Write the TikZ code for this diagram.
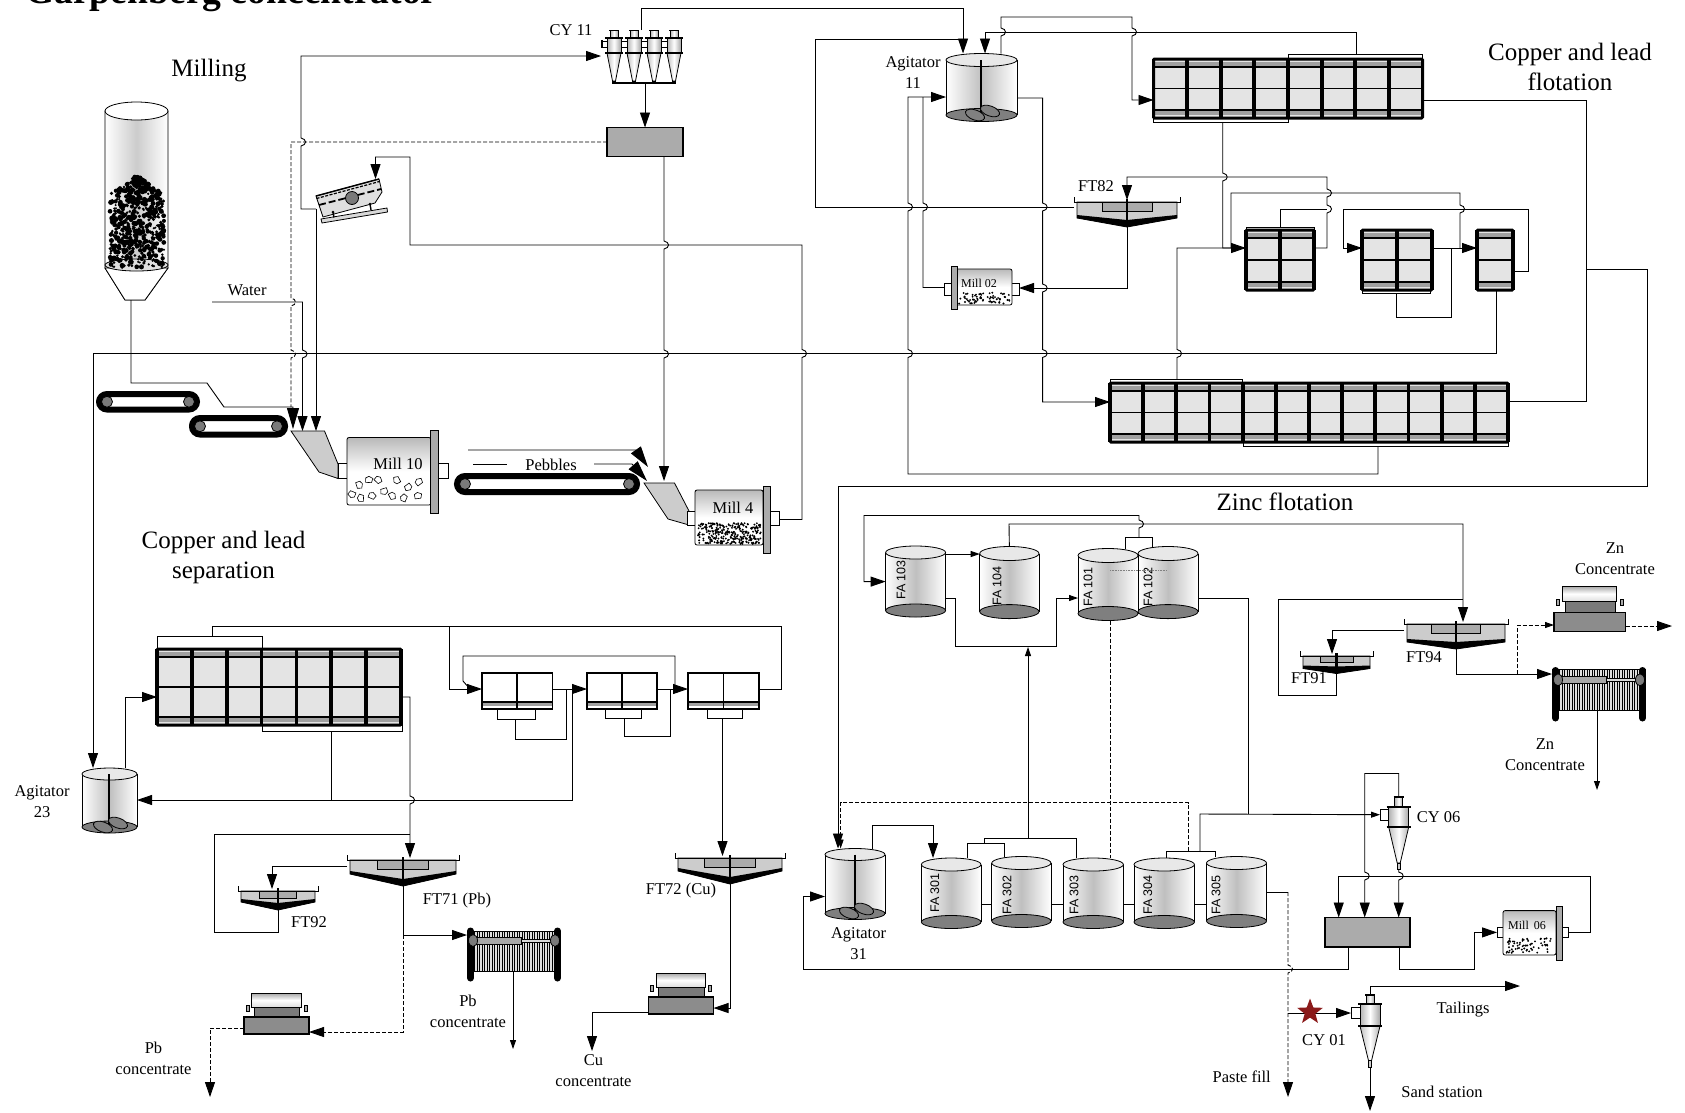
\documentclass[tikz,border=0pt]{standalone}
\usepackage{fontspec}
\setmainfont{Liberation Serif}
\setsansfont{Liberation Sans}
\usetikzlibrary{arrows.meta,shapes.geometric}
\definecolor{cellg}{HTML}{E4E4E4}
\definecolor{stripg}{HTML}{A0A0A0}
\definecolor{tankbot}{HTML}{7F7F7F}
\definecolor{tanktop}{HTML}{E8E8E8}
\definecolor{boxg}{HTML}{ABABAB}
\definecolor{hopg}{HTML}{CCCCCC}
\definecolor{darkg}{HTML}{7A7A7A}
\definecolor{starred}{HTML}{8B1A1A}
\tikzset{
 pipe/.style={line width=.9pt,draw=black},
 dpipe/.style={line width=.9pt,draw=black,dash pattern=on 4pt off 2pt},
 smalla/.style={>={Triangle[length=9pt,width=6pt]}},
 biga/.style={>={Triangle[length=21pt,width=12pt]}},
 eqb/.style={inner sep=0pt,outer sep=0pt,draw=none,rectangle},
 lblS/.style={font=\fontsize{16.5}{21}\selectfont,inner sep=0pt,align=center},
 lblB/.style={font=\fontsize{25}{30}\selectfont,inner sep=0pt,align=center},
 lblT/.style={font=\fontsize{12}{14}\selectfont,inner sep=0pt},
 lblF/.style={font=\sffamily\fontsize{12.5}{14}\selectfont,inner sep=0pt,rotate=90},
 outl/.style={line width=.8pt,draw=black},
 >={Triangle[length=15pt,width=10pt]}
}
\newcommand{\eqn}[5]{\node[eqb,minimum width={((#4)-(#2))*1pt},minimum height={((#5)-(#3))*1pt}] (#1) at ({((#2)+(#4))/2},{((#3)+(#5))/2}) {};}
\newcommand{\jd}[2]{-- (#1,#2-4) .. controls (#1+6,#2-3) and (#1+6,#2+3) .. (#1,#2+4)}
\newcommand{\ju}[2]{-- (#1,#2+4) .. controls (#1+6,#2+3) and (#1+6,#2-3) .. (#1,#2-4)}
% tank: name,x1,x2,ytop centre,ybottom centre,ry
\newcommand{\tankc}[6]{%
 \pgfmathsetmacro\tcx{(#2+#3)/2}\pgfmathsetmacro\trx{(#3-#2)/2}%
 \shade[left color=white,right color=white,middle color=gray!50] (#2,#4) rectangle (#3,#5);
 \draw[outl] (#2,#4)--(#2,#5) (#3,#4)--(#3,#5);
 \draw[outl,fill=tankbot] (\tcx,#5) ellipse [x radius=\trx pt,y radius=#6 pt];
 \draw[outl,fill=tanktop] (\tcx,#4) ellipse [x radius=\trx pt,y radius=#6 pt];
 \eqn{#1}{#2}{#4-#6}{#3}{#5+#6}}
% agitator internals: cx, top, bottom
\newcommand{\stir}[3]{%
 \draw[line width=2pt] (#1,#2) -- (#1,#3);
 \draw[outl,fill=gray,rotate around={-20:(#1-6,#3+2)}] (#1-6,#3+2) ellipse [x radius=10pt,y radius=5pt];
 \draw[outl,fill=gray,rotate around={-20:(#1+9,#3-2)}] (#1+9,#3-2) ellipse [x radius=10pt,y radius=5pt];}
% bank: name,x1,y1,x2,y2,n
\newcommand{\bankc}[6]{%
 \fill[cellg] (#2,#3) rectangle (#4,#5);
 \fill[stripg] (#2,#3+2.7) rectangle (#4,#3+7);
 \fill[stripg] (#4,#5-2.7) rectangle (#2,#5-7);
 \draw[line width=2pt] (#2,#3+8) -- (#4,#3+8) (#2,#5-8) -- (#4,#5-8);
 \draw[line width=1.5pt] (#2,{(#3+#5)/2}) -- (#4,{(#3+#5)/2});
 \foreach \k in {0,...,#6}{\draw[line width=3.8pt] ({#2+\k*(#4-#2)/#6},#3) -- ({#2+\k*(#4-#2)/#6},#5);}
 \draw[line width=3pt,rounded corners=1pt] (#2,#3) rectangle (#4,#5);
 \eqn{#1}{#2}{#3}{#4}{#5}}
\newcommand{\stripb}[5]{\draw[line width=1pt,fill=white] (#2,#3) rectangle (#4,#5); \eqn{#1}{#2}{#3}{#4}{#5}}
% white cells: name,x1,y1,x2,y2
\newcommand{\wcell}[5]{%
 \fill[white] (#2,#3) rectangle (#4,#5);
 \fill[stripg] (#2,#5-7) rectangle (#4,#5-3);
 \draw[line width=1.6pt] (#2,#5-7) -- (#4,#5-7);
 \draw[line width=1.6pt] ({(#2+#4)/2},#3) -- ({(#2+#4)/2},#5);
 \draw[line width=1.8pt] (#2,#3) rectangle (#4,#5);
 \eqn{#1}{#2}{#3}{#4}{#5}}
% thickener: name,cx,ytop,half w,yside,yapex,box half,ybox
\newcommand{\thickn}[8]{%
 \draw[outl,fill=hopg] (#2-#4,#3) -- (#2+#4,#3) -- (#2+#4,#5+3) -- (#2,#6) -- (#2-#4,#5+3) -- cycle;
 \fill (#2-#4,#5) -- (#2,#6-7) -- (#2+#4,#5) -- (#2+#4,#5+3) -- (#2,#6) -- (#2-#4,#5+3) -- cycle;
 \draw[outl,fill=boxg] (#2-#7,#3) rectangle (#2+#7,#8);
 \draw[line width=2.2pt] (#2,#3-3) -- (#2,#6);
 \draw[outl] (#2-#4-3,#3-5) -- (#2-#4-3,#3) -- (#2+#4+3,#3) -- (#2+#4+3,#3-5);
 \eqn{#1}{#2-#4-3}{#3-2}{#2+#4+3}{#6}}
% conveyor: name,x1,y1,x2,y2
\newcommand{\convb}[5]{%
 \draw[line width=6pt,fill=white,rounded corners=8pt] (#2+3,#3+3) rectangle (#4-3,#5-3);
 \draw[outl,fill=darkg] (#2+11,{(#3+#5)/2}) circle (5.5pt);
 \draw[outl,fill=darkg] (#4-11,{(#3+#5)/2}) circle (5.5pt);
 \eqn{#1}{#2}{#3}{#4}{#5}}
\newcommand{\millnoz}[4]{\draw[outl,fill=white] (#1,#3) rectangle (#2,#4);}
\newcommand{\millbody}[8]{%
 \draw[outl,top color=gray!55,bottom color=white,middle color=white,rounded corners=2pt] (#1,#2) rectangle (#3,#4);
 \draw[outl,fill=boxg] (#5,#6) rectangle (#7,#8);}
\newcommand{\rockp}[3]{\draw[line width=.6pt,fill=white,shift={(#1,#2)},rotate=#3,scale=.72] (-4,-4) -- (2,-5) -- (5,-1) -- (3,5) -- (-3,4) -- cycle;}
\newcommand{\pebbles}[5]{\foreach \i in {1,...,#5}{\pgfmathsetmacro\px{#1+rnd*(#3-#1)}\pgfmathsetmacro\py{#2+rnd*(#4-#2)}\fill (\px,\py) circle (1.05pt);}}
% cyclone: cx,ytop,yb1,yb2,ycone,ytip,hw
\newcommand{\cycl}[7]{%
 \draw[outl,left color=gray!60,right color=gray!70,middle color=white] (#1-4,#2) rectangle (#1+4,#3);
 \draw[line width=1.8pt] (#1-5,#2+.5) -- (#1+5,#2+.5);
 \draw[outl,left color=gray!60,right color=gray!70,middle color=white] (#1-#7,#3) rectangle (#1+#7,#4);
 \draw[outl,left color=gray!50,right color=gray!60,middle color=white] (#1-#7,#4) -- (#1+#7,#4) -- (#1+1.5,#5) -- (#1-1.5,#5) -- cycle;
 \draw[line width=2pt] (#1-#7-2,#3) -- (#1+#7+2,#3) (#1-#7-2,#4) -- (#1+#7+2,#4);
 \draw[outl,fill=gray!40] (#1-1.5,#5) rectangle (#1+1.5,#6);}
% drum filter: name,x0,y0,scale
\newcommand{\vacf}[4]{%
 \begin{scope}[shift={(#2,#3)},scale=#4]
 \draw[outl,fill=boxg] (2,12) rectangle (5,18);
 \draw[outl,fill=boxg] (60,12) rectangle (63,18);
 \draw[outl,top color=gray!70,bottom color=gray!25,middle color=white] (7.5,0) rectangle (57,14);
 \draw[outl,fill=darkg] (10,14) rectangle (55.5,24);
 \draw[line width=1.1pt,fill=gray!90!white] (0,24) rectangle (65,41);
 \end{scope}
 \eqn{#1}{#2}{#3}{#2+65*#4}{#3+41*#4}}
% filter press: name,x1,x2,yp1,yp2,ys1,ys2,yr1,yr2
\newcommand{\fpress}[9]{%
 \fill[gray!25] (#2+7,#6) rectangle (#3-7,#7);
 \foreach \k in {0,...,31}{\draw[line width=.55pt] ({#2+7.5+\k*2.5},#6) -- ({#2+7.5+\k*2.5},#7);}
 \draw[line width=.8pt] (#2,#6) -- (#3,#6) (#2,#7) -- (#3,#7);
 \draw[line width=7pt,line cap=round] (#2+3.5,#4+3) -- (#2+3.5,#5-3);
 \draw[line width=7pt,line cap=round] (#3-3.5,#4+3) -- (#3-3.5,#5-3);
 \draw[outl,fill=gray!70] (#2+7,#8) rectangle (#2+54,#9);
 \draw[outl,fill=gray!30] (#2+54,{(#8+#9)/2-1.5}) rectangle (#3-7,{(#8+#9)/2+1.5});
 \draw[outl,fill=darkg] (#2+6,{(#8+#9)/2}) ellipse [x radius=4.5pt,y radius=6pt];
 \draw[outl,fill=darkg] (#3-6,{(#8+#9)/2}) ellipse [x radius=4.5pt,y radius=6pt];
 \eqn{#1}{#2}{#4}{#3}{#7}}
\begin{document}
\begin{tikzpicture}[x=1pt,y=-1pt]
\useasboundingbox (0,0) rectangle (1685,1112);
\fill[white] (0,0) rectangle (1685,1112);
\pgfmathsetseed{7}
% ---------- labels
\node[font=\bfseries\fontsize{37.6}{37.6}\selectfont,anchor=base west,inner sep=0pt] (ttl) at (25,3) {Garpenberg concentrator};
\node[lblB] (lMill) at (209,71) {Milling};
\node[lblB] (lCuPb) at (1570,67) {Copper and lead\\flotation};
\node[lblB] (lSep) at (223.5,557) {Copper and lead\\separation};
\node[lblB] (lZn) at (1285,502) {Zinc flotation};
\node[lblS] (lCY11) at (571,30) {CY 11};
\node[lblS] (lWater) at (247,290) {Water};
\node[lblS] (lPebbles) at (551,465) {Pebbles};
\node[lblS] (lAg11) at (913,73) {Agitator\\11};
\node[lblS] (lAg23) at (42,802) {Agitator\\23};
\node[lblS] (lAg31) at (858.5,944) {Agitator\\31};
\node[lblS] (lFT82) at (1096,186) {FT82};
\node[lblS] (lFT71) at (457,901) {FT71 (Pb)};
\node[lblS] (lFT92) at (309,922) {FT92};
\node[lblS] (lFT72) at (681,891) {FT72 (Cu)};
\node[lblS] (lFT94) at (1424,657) {FT94};
\node[lblS] (lFT91) at (1309,678) {FT91};
\node[lblS] (lPb1) at (468,1011) {Pb\\concentrate};
\node[lblS] (lPb2) at (153.5,1058) {Pb\\concentrate};
\node[lblS] (lCu) at (593.5,1071) {Cu\\concentrate};
\node[lblS] (lZn1) at (1615,559) {Zn\\Concentrate};
\node[lblS] (lZn2) at (1545,754.5) {Zn\\Concentrate};
\node[lblS] (lCY06) at (1438.6,817.5) {CY 06};
\node[lblS] (lCY01) at (1324,1040.5) {CY 01};
\node[lblS] (lTail) at (1463,1009.5) {Tailings};
\node[lblS] (lSand) at (1442,1092) {Sand station};
\node[lblS] (lPaste) at (1241.7,1077) {Paste fill};
% ---------- silo
\draw[outl,left color=white,right color=white,middle color=gray!40] (105,111) -- (105,268) -- (125,300) -- (145,300) -- (168,268) -- (168,111) -- cycle;
\draw[outl,fill=white] (105,268) -- (125,300) -- (145,300) -- (168,268) -- cycle;
\draw[outl,fill=gray!25] (136.5,265) ellipse [x radius=31.5pt,y radius=6pt];
\foreach \i in {1,...,620}{%
 \pgfmathsetmacro\py{177+rnd*90}
 \pgfmathsetmacro\hw{min(27,3+(\py-177)*1.4)}
 \pgfmathsetmacro\px{137+(2*rnd-1)*\hw}
 \pgfmathsetmacro\pr{1.1+rnd*1.5}
 \fill (\px,\py) circle (\pr pt);}
\draw[outl,fill=white] (136.5,111) ellipse [x radius=31.5pt,y radius=9pt];
\eqn{silo}{105}{102}{168}{300}
% ---------- conveyors
\convb{conv1}{96}{391}{200}{412.5}
\convb{conv2}{189}{415}{288}{437.5}
\convb{conv3}{454}{473}{640}{495}
% ---------- mill 10
\draw[outl,fill=hopg] (291,431) -- (324.5,431) -- (338,464) -- (338,478.5) -- (319,472) -- cycle;
\millnoz{338}{448}{463.5}{478.5}
\millbody{347}{437.5}{431}{505}{430}{430}{438}{513}
\eqn{hop10}{291}{431}{338}{478.5}
\eqn{mill10}{338}{430}{448}{513}
\rockp{359}{485}{10}\rockp{369}{480}{80}\rockp{378}{480}{40}\rockp{397}{480}{200}\rockp{419}{482}{120}
\rockp{372}{496}{60}\rockp{361}{498}{170}\rockp{384}{491}{280}\rockp{392}{496}{20}\rockp{404}{498}{150}\rockp{408}{487}{300}\rockp{418}{496}{90}\rockp{352}{494}{240}
\node[lblS] (lM10) at (398,464) {Mill 10};
% ---------- mill 4
\draw[outl,fill=hopg] (644,483) -- (674.5,483) -- (689,511) -- (689,525) -- (668,519) -- cycle;
\millnoz{687}{779}{511}{525}
\millbody{695}{490}{763}{545}{763}{486}{770.5}{553}
\pebbles{698}{523}{761}{544}{300}
\eqn{hop4}{644}{483}{689}{525}
\eqn{mill4}{687}{486}{779}{553}
\node[lblS] (lM4) at (733,508) {Mill 4};
% ---------- mill 02
\millnoz{944.5}{1019}{283}{295}
\millbody{956}{269}{1012}{305}{951}{266}{957}{309}
\pebbles{959}{292}{1010}{304}{70}
\eqn{mill02}{944.5}{266}{1019}{309}
\node[lblT] (lM02) at (979,283) {Mill 02};
% ---------- mill 06
\millnoz{1497}{1568.4}{927}{937.6}
\millbody{1503}{910.6}{1556}{955}{1556}{906}{1562}{960}
\pebbles{1506}{938}{1553}{953}{70}
\eqn{mill06}{1497}{906}{1568.4}{960}
\node[lblT] (lM06) at (1527,925) {Mill\, 06};
% ---------- screen
\draw[outl,fill=gray!25] (316,196) -- (379,179) -- (382,192) -- (375,203) -- (323,217) -- cycle;
\draw[line width=1.4pt] (316,196) -- (379,179);
\draw[line width=1.2pt,dash pattern=on 3pt off 1.5pt] (316.5,198.5) -- (379.5,181.5);
\draw[line width=1.8pt,dash pattern=on 7pt off 3pt] (319,205) -- (381,189);
\draw[outl,fill=darkg] (352,198) circle (6.5pt);
\draw[outl,fill=gray!30] (321,219) -- (387,208) -- (387.5,212) -- (322,223) -- cycle;
\draw[line width=1.4pt] (333,212) -- (334,217.5) (370,204) -- (371,210);
\fill (333,212) circle (1.5pt) (370,204) circle (1.5pt);
\eqn{screen}{316}{179}{387}{222}
% ---------- cyclones 11
\foreach \c in {614,634,654,674}{\draw[outl,fill=white] (\c-13,41) rectangle (\c-6,47);}
\draw[line width=2.5pt] (602,40) -- (602,48);
\foreach \c in {614,634,654,674}{\cycl{\c}{30}{38}{53}{81}{83}{7}}
\draw[line width=1.2pt] (613,83) -- (676,83);
\eqn{cy11}{601}{30}{682}{83}
% ---------- boxes
\draw[line width=1.2pt,fill=boxg] (607,127.5) rectangle (683,156.5);
\eqn{boxA}{607}{127.5}{683}{156.5}
\draw[line width=1.2pt,fill=boxg] (1325,917.5) rectangle (1410,947);
\eqn{boxB}{1325}{917.5}{1410}{947}
% ---------- agitators
\tankc{ag11}{946}{1017}{60}{115}{6.5}
\stir{981}{60}{113}
\tankc{ag23}{82}{137}{774}{827}{6}
\stir{109}{774}{825}
\tankc{ag31}{825}{885}{854.5}{913.5}{6}
\stir{855}{854.5}{911}
% ---------- flotation banks
\stripb{s1t}{1288}{54}{1422}{59}
\stripb{s1b}{1153}{118}{1288}{122}
\bankc{bank1}{1153.5}{59}{1422.5}{118}{8}
\stripb{s3t}{1110}{379}{1242}{383}
\stripb{s3b}{1243}{442}{1508}{446}
\bankc{bank3}{1110}{383}{1508}{442}{12}
\stripb{s4t}{1246}{227}{1314}{230}
\bankc{bB1}{1246}{230}{1314}{290}{2}
\stripb{s5b}{1362}{290}{1430}{293}
\bankc{bB2}{1362}{230}{1432}{290}{2}
\bankc{bB3}{1477}{230}{1513}{290}{1}
\stripb{s6t}{157}{636}{262}{649}
\stripb{s6b}{262}{725}{402}{731}
\bankc{sep}{157}{649}{401}{725}{7}
\wcell{c1}{482}{673}{552.5}{709}
\wcell{c2}{587}{673}{657}{709}
\wcell{c3}{688}{673}{759}{709}
\stripb{u1}{497}{709}{535}{719}
\stripb{u2}{605}{709}{641}{718}
\stripb{u3}{707}{709}{742}{718}
% ---------- thickeners
\thickn{ft82}{1127}{202}{50}{215}{227}{25}{211}
\thickn{ft71}{403}{860}{53}{871}{886}{25.5}{869}
\thickn{ft92}{278}{891}{37}{899}{910}{18.5}{898}
\thickn{ft72}{730}{858}{52}{868}{884}{25.5}{867}
\thickn{ft94}{1456}{624}{49}{639}{649}{24.5}{633}
\thickn{ft91}{1336.5}{656}{33.5}{665.5}{673.5}{16.5}{662}
% ---------- filters
\fpress{fpPb}{467}{561}{928}{981}{931}{971}{937}{944}
\fpress{fpZn}{1552}{1646}{667.5}{721}{669.5}{710.6}{676}{683.6}
\vacf{vfPb}{244}{993}{1}
\vacf{vfCu}{648.5}{973}{1}
\vacf{vfZn}{1554}{586}{1.1}
% ---------- FA tanks
\tankc{fa103}{885.6}{945.6}{552.5}{610.5}{6.5}
\tankc{fa104}{979.7}{1039}{553.5}{611.6}{7}
\tankc{fa101}{1078}{1138}{555.5}{613.5}{7}
\tankc{fa102}{1138}{1198}{553.5}{611.6}{7}
\tankc{fa301}{921.4}{981}{864.5}{922}{6.5}
\tankc{fa302}{991.8}{1051}{863}{921}{6.5}
\tankc{fa303}{1063}{1123.4}{864.5}{922}{6.5}
\tankc{fa304}{1134}{1194.4}{864.5}{922}{6.5}
\tankc{fa305}{1206.5}{1266.5}{863}{921}{6.5}
\node[lblF] (t103) at (901,580) {FA 103};
\node[lblF] (t104) at (997,586) {FA 104};
\node[lblF] (t101) at (1088,587) {FA 101};
\node[lblF] (t102) at (1148,587) {FA 102};
\node[lblF] (t301) at (934.7,893) {FA 301};
\node[lblF] (t302) at (1007,895) {FA 302};
\node[lblF] (t303) at (1074,895) {FA 303};
\node[lblF] (t304) at (1147.7,895) {FA 304};
\node[lblF] (t305) at (1216,895) {FA 305};
\draw[gray,densely dotted,line width=.6pt] (fa101.west |- 0,570) ++(32,0) -- (1167,570);
% ---------- single cyclones
\draw[outl,fill=white] (1380,809.5) rectangle (1390,820);
\cycl{1398.7}{796.5}{806.6}{827}{863}{869}{10}
\eqn{cy06}{1380}{796.5}{1409}{869}
\draw[outl,fill=white] (1351,1007.5) rectangle (1361,1018.5);
\cycl{1370}{994.5}{1004}{1026}{1060.6}{1067}{10}
\eqn{cy01}{1351}{994.5}{1380}{1067}
% ---------- free ends
\coordinate (water) at (212,302);
\coordinate (outPb) at (210,1097);
\coordinate (outPb2) at (513,1049);
\coordinate (outCu) at (592,1051);
\coordinate (outZn) at (1672,626);
\coordinate (outZn2) at (1597,790);
\coordinate (outPaste) at (1288,1097);
\coordinate (outTail) at (1520,986);
\coordinate (outSand) at (1370,1111);
% ---------- milling connectors
\draw[pipe,biga,->] (silo.south -| 131,0) -- (131,383) -- (207,383) -- (224,407) -- (293,407) -- (293,429);
\draw[pipe,->] (water) -- (302.5,302) \jd{302.5}{354} -- (hop10.north -| 302.5,0);
\draw[dpipe] (boxA.west) -- (291,142) \jd{291}{302} \jd{291}{354} -- (291,407);
\draw[pipe,->] (screen.west |- 0,209) -- (301,209) \ju{301}{142} -- (301,56) -- (cy11.west |- 0,56);
\draw[pipe,->] (screen.west |- 0,209) -- (hop10.north -| 316,0);
\draw[pipe,->] (boxA.north |- cy11.south) -- (boxA.north);
\draw[pipe,->] (boxA.south -| 664,0) \jd{664}{245} \jd{664}{354} -- (664,481);
\draw[pipe,->] (mill4.east) -- (802,519.5) \ju{802}{353.5} -- (802,245) -- (410,245) -- (410,157) -- (375.5,157) -- (screen.north -| 375.5,0);
\draw[pipe,biga,->] (468,450) -- (636,450) -- (648,467);
\draw[pipe,biga,->] (594,464) -- (632,464) -- (647,481);
\draw[pipe] (473,464) -- (507,464);
% ---------- long return
\draw[pipe,->] (bB3.south -| 1496,0) -- (1496,353.5) -- (93,353.5) -- (ag23.north -| 93,0);
% ---------- copper & lead flotation
\draw[pipe,->] (cy11.north -| 641,0) -- (641,8) -- (963,8) -- (ag11.north -| 963,0);
\draw[pipe] (ft82.west |- 0,207) -- (815,207) -- (815,39) -- (963,39);
\draw[pipe,->] (ag11.east |- 0,98) -- (1042.6,98) \jd{1042.6}{207} \jd{1042.6}{288} \jd{1042.6}{353.5} -- (1042.6,402) -- (bank3.west |- 0,402);
\draw[pipe,->] (ag11.north -| 1001,0) \ju{1001}{32} -- (1001,17) -- (1132,17) \jd{1132}{32} -- (1132,100) -- (bank1.west |- 0,100);
\draw[pipe,->] (s1t.north -| 1356,0) -- (1356,32) -- (985,32) -- (ag11.north -| 985,0);
\draw[pipe,->] (s1b.south -| 1222.7,0) \jd{1222.7}{177} -- (1222.7,248) -- (bB1.west |- 0,248);
\draw[pipe,->] (s3b.south -| 1378,0) -- (1378,474) -- (908,474) \ju{908}{353.5} \ju{908}{207} -- (908,97) -- (ag11.west |- 0,97);
\draw[pipe] (mill02.west) -- (923,287.5) \ju{923}{207} -- (923,97);
\draw[pipe,->] (ft82.south) -- (1127,288) -- (mill02.east |- 0,288);
\draw[pipe,->] (bB1.east |- 0,248) -- (1327,248) \ju{1327}{209} \ju{1327}{193} -- (1327,177) -- (1127,177) -- (ft82.north);
\draw[pipe] (s4t.north -| 1280,0) -- (1280,209) -- (1327,209);
\draw[pipe,->] (bB2.east |- 0,248) -- (bB3.west |- 0,248);
\draw[pipe] (1460,248) \ju{1460}{209} -- (1460,193) -- (1231,193) -- (1231,248);
\draw[pipe,->] (bB3.east |- 0,271) -- (1528.6,271) -- (1528.6,209) -- (1343,209) -- (1343,248) -- (bB2.west |- 0,248);
\draw[pipe] (s5b.south -| 1396,0) -- (1396,317) -- (1451,317) -- (1451,248);
\draw[pipe] (s3t.north -| 1177,0) \ju{1177}{353.5} -- (1177,248) -- (1231,248);
\draw[pipe] (bank1.east |- 0,100) -- (1586,100) -- (1586,401) -- (bank3.east |- 0,401);
\draw[pipe,->] (1586,269) -- (1647.5,269) -- (1647.5,486) -- (838,486) -- (ag31.north -| 838,0);
% ---------- separation
\draw[pipe,->] (ag23.north -| 125,0) -- (125,697) -- (sep.west |- 0,697);
\draw[pipe,->] (sep.east |- 0,697) -- (410,697) \jd{410}{800} -- (ft71.north -| 410,0);
\draw[pipe] (s6b.south -| 331,0) -- (331,800);
\draw[pipe,->] (572,689) -- (572,800) -- (ag23.east |- 0,800);
\draw[pipe] (s6t.north -| 212,0) -- (212,626) -- (781,626) -- (781,689) -- (c3.east |- 0,689);
\draw[pipe,->] (449,626) -- (449,689) -- (c1.west |- 0,689);
\draw[pipe,->] (c1.east |- 0,689) -- (c2.west |- 0,689);
\draw[pipe,->] (c2.east |- 0,689) -- (c3.west |- 0,689);
\draw[pipe] (675,689) -- (675,656) -- (463,656) -- (463,681) -- (470,689);
\draw[pipe] (u1.south -| 515,0) -- (515,739) -- (566,739) -- (566,689);
\draw[pipe] (u2.south -| 624,0) -- (624,736) -- (670,736) -- (670,689);
\draw[pipe,->] (u3.south -| 722.5,0) -- (ft72.north -| 722.5,0);
\draw[pipe,->] (ft71.west |- 0,866) -- (272,866) -- (ft92.north -| 272,0);
\draw[pipe] (ft92.south) -- (278,932) -- (214,932) -- (214,834) -- (410,834);
\draw[pipe,->] (ft71.south) -- (403,935) -- (fpPb.west |- 0,935);
\draw[dpipe,->] (403,935) -- (403,1032) -- (vfPb.east |- 0,1032);
\draw[pipe,smalla,->] (fpPb.south -| 513,0) -- (outPb2);
\draw[dpipe,->] (vfPb.west |- 0,1028) -- (210,1028) -- (outPb);
\draw[pipe,->] (ft72.south) -- (730,1008) -- (vfCu.east |- 0,1008);
\draw[pipe,->] (vfCu.west |- 0,1012) -- (592,1012) -- (outCu);
% ---------- zinc flotation
\draw[pipe,smalla,->] (fa103.east |- 0,554) -- (fa104.west |- 0,554);
\draw[pipe,smalla,->] (fa103.east |- 0,598) -- (955,598) -- (955,646) -- (1056.5,646) -- (1056.5,598) -- (fa101.west |- 0,598);
\draw[pipe,smalla,->] (1028,838) -- (1028,647);
\draw[pipe] (fa301.north -| 967.6,0) -- (967.6,843.7) -- (1004,843.7) -- (fa302.north -| 1004,0);
\draw[pipe] (984,843.7) -- (984,838) -- (1076,838) -- (fa303.north -| 1076,0);
\draw[pipe,->] (ag31.north -| 872,0) -- (872,825.6) -- (933,825.6) -- (fa301.north -| 933,0);
\draw[dpipe] (fa101.south -| 1110,0) -- (fa303.north -| 1110,0);
\draw[pipe,->] (fa104.north) -- (1009,524) -- (1463,524) -- (ft94.north -| 1463,0);
\draw[pipe] (fa101.north -| 1125,0) -- (1125,537.7) -- (1152,537.7) -- (fa102.north -| 1152,0);
\draw[pipe,->] (1139,537.7) \ju{1139}{524} -- (1139,515.5) -- (864,515.5) -- (864,581.6) -- (fa103.west |- 0,581.6);
\draw[pipe] (fa102.east |- 0,598) -- (1248.7,598) -- (1248.7,814);
\draw[pipe] (fa304.north -| 1166.7,0) -- (1166.7,851) -- (1215.8,851) -- (fa305.north -| 1215.8,0);
\draw[pipe,smalla,->] (1200,851) -- (1200,814) -- (cy06.west |- 0,814.7);
\draw[dpipe,smalla,->] (1188.6,851) -- (1188.6,802.6) -- (840.6,802.6) -- (ag31.north -| 840.6,0);
\draw[pipe] (fa301.east |- 0,904) -- (fa302.west |- 0,904);
\draw[pipe] (fa302.east |- 0,904) -- (fa303.west |- 0,904);
\draw[pipe] (fa303.east |- 0,904) -- (fa304.west |- 0,904);
\draw[pipe] (fa304.east |- 0,904) -- (fa305.west |- 0,904);
\draw[pipe] (fa305.east |- 0,892) -- (1288,892);
\draw[dpipe,->] (1288,892) \jd{1288}{969} -- (outPaste);
\draw[pipe,->] (1288,1013) -- (cy01.west |- 0,1013);
\node[star,star points=5,star point ratio=2.4,fill=starred,inner sep=0pt,minimum size=27pt] (star) at (1310,1012) {};
\draw[pipe,->] (boxB.south -| 1348.5,0) -- (1348.5,969) -- (803,969) -- (803,896.5) -- (ag31.west |- 0,896.5);
\draw[pipe,->] (boxB.south -| 1399,0) -- (1399,969) -- (1474,969) -- (1474,932.4) -- (mill06.west |- 0,932.4);
\draw[pipe,->] (mill06.east |- 0,932) -- (1590,932) -- (1590,876) -- (1338.7,876) -- (boxB.north -| 1338.7,0);
\draw[pipe,->] (cy06.north -| 1398.7,0) -- (1398.7,773.5) -- (1364.7,773.5) \jd{1364.7}{876} -- (boxB.north -| 1364.7,0);
\draw[pipe,->] (cy06.south -| 1398.7,0) \jd{1398.7}{876} -- (boxB.north -| 1398.7,0);
\draw[pipe,->] (cy01.north -| 1370,0) -- (1370,986) -- (outTail);
\draw[pipe,->] (cy01.south -| 1370,0) -- (outSand);
\draw[pipe,->] (ft94.west |- 0,630) -- (1332,630) -- (ft91.north -| 1332,0);
\draw[pipe] (ft91.south) -- (1336.5,695) -- (1278,695) -- (1278,599) -- (1463,599);
\draw[pipe,->] (ft94.south) -- (1456,674) -- (fpZn.west |- 0,674);
\draw[dpipe,smalla,->] (1517.6,674) -- (1517.6,625) -- (vfZn.west |- 0,625);
\draw[dpipe,->] (vfZn.east |- 0,626) -- (outZn);
\draw[pipe,smalla,->] (fpZn.south -| 1597,0) -- (outZn2);
\end{tikzpicture}
\end{document}
